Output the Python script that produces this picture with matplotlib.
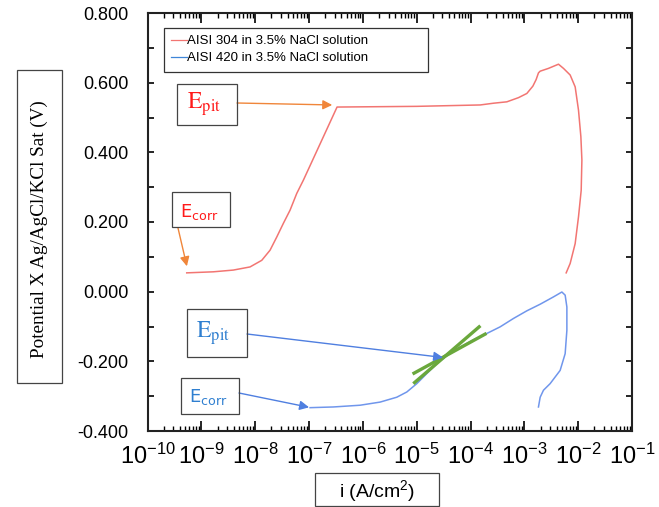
import matplotlib
matplotlib.use("Agg")
import matplotlib.pyplot as plt
from matplotlib.patches import Rectangle
from matplotlib.ticker import LogLocator, MultipleLocator, FormatStrFormatter, LogFormatterMathtext, NullFormatter
import numpy as np

plt.rcParams['font.family'] = ['Liberation Sans', 'DejaVu Sans']
plt.rcParams['mathtext.fontset'] = 'custom'
plt.rcParams['mathtext.rm'] = 'Liberation Sans'
plt.rcParams['mathtext.it'] = 'Liberation Sans:italic'
plt.rcParams['axes.unicode_minus'] = False

# ---------------- data ----------------
series_labels = ["AISI 304 in 3.5% NaCl solution", "AISI 420 in 3.5% NaCl solution"]

log_i_304 = [-9.273, -8.779, -8.407, -8.097, -7.879, -7.725, -7.600, -7.478, -7.353, -7.229,
             -7.106, -6.48, -5.0, -3.82, -3.574, -3.325, -3.109, -2.954, -2.842, -2.781,
             -2.738, -2.706, -2.552, -2.366, -2.273, -2.149, -2.056, -1.994, -1.950, -1.931,
             -1.944, -1.994, -2.056, -2.149, -2.223]
E_304 = [0.054, 0.057, 0.062, 0.071, 0.090, 0.119, 0.157, 0.196, 0.234, 0.282,
         0.320, 0.530, 0.532, 0.536, 0.541, 0.545, 0.557, 0.569, 0.590, 0.609,
         0.628, 0.633, 0.641, 0.653, 0.641, 0.622, 0.588, 0.521, 0.445, 0.378,
         0.291, 0.215, 0.138, 0.081, 0.054]

log_i_420 = [-6.981, -6.548, -6.052, -5.680, -5.370, -5.184, -4.998, -4.812, -4.626, -4.441,
             -4.193, -3.946, -3.697, -3.450, -3.203, -2.954, -2.706, -2.459, -2.303, -2.242,
             -2.210, -2.210, -2.242, -2.335, -2.521, -2.645, -2.706, -2.738]
E_420 = [-0.333, -0.331, -0.326, -0.317, -0.303, -0.288, -0.264, -0.235, -0.207, -0.183,
         -0.159, -0.138, -0.120, -0.101, -0.077, -0.055, -0.036, -0.015, -0.001, -0.010,
         -0.044, -0.111, -0.178, -0.226, -0.264, -0.283, -0.303, -0.331]

tafel1_log_i = [-5.05, -3.73]
tafel1_E = [-0.234, -0.122]
tafel2_log_i = [-5.04, -3.84]
tafel2_E = [-0.261, -0.101]

# annotation targets (log i, E)
epit_304 = (-6.57, 0.536)
ecorr_304 = (-9.27, 0.073)
epit_420 = (-4.51, -0.189)
ecorr_420 = (-7.0, -0.332)

y_ticks = [-0.4, -0.2, 0.0, 0.2, 0.4, 0.6, 0.8]

W, H = 659, 507
fig = plt.figure(figsize=(W / 100, H / 100), dpi=100)

def fx(x):
    return x / W

def fy(y):
    return 1 - y / H

ax = fig.add_axes([fx(147.6), fy(431), fx(632) - fx(147.6), fy(13) - fy(431)])

red = '#f27572'
blue = '#7096ec'
ax.plot(10 ** np.array(log_i_304), E_304, color=red, lw=1.1, label=series_labels[0])
ax.plot(10 ** np.array(log_i_420), E_420, color=blue, lw=1.1, label=series_labels[1])
ax.plot(10 ** np.array(tafel1_log_i), tafel1_E, color='#6aa83c', lw=2.4)
ax.plot(10 ** np.array(tafel2_log_i), tafel2_E, color='#6aa83c', lw=2.4)

ax.set_xscale('log')
ax.set_xlim(1e-10, 1e-1)
ax.set_ylim(-0.4, 0.8)
ax.xaxis.set_major_locator(LogLocator(base=10, numticks=20))
ax.xaxis.set_minor_locator(LogLocator(base=10, subs=np.arange(2, 10), numticks=200))
ax.xaxis.set_major_formatter(LogFormatterMathtext())
ax.xaxis.set_minor_formatter(NullFormatter())
ax.set_yticks(y_ticks)
ax.yaxis.set_minor_locator(MultipleLocator(0.1))
ax.yaxis.set_major_formatter(FormatStrFormatter('%.3f'))

ax.tick_params(axis='x', which='major', direction='in', length=7, width=1.2, top=True,
               labelsize=17, pad=9)
ax.tick_params(axis='x', which='minor', direction='in', length=3.5, width=1.0, top=True)
ax.tick_params(axis='y', which='both', direction='in', length=4, width=1.2, right=True,
               labelsize=13, pad=14)
for s in ax.spines.values():
    s.set_linewidth(1.5)
    s.set_color('#222222')

# legend
x0, y0, x1, y1 = 164, 28, 428, 74
leg = ax.legend(loc='upper left', bbox_to_anchor=(fx(x0), fy(y1), fx(x1) - fx(x0), fy(y0) - fy(y1)),
                bbox_transform=fig.transFigure, mode='expand', borderaxespad=0,
                fancybox=False, edgecolor='#333333', framealpha=1, fontsize=9.5,
                handlelength=1.2, handletextpad=0.0, labelspacing=0.35, borderpad=0.55)
leg.get_frame().set_linewidth(0.9)
for lh, c in zip(leg.get_lines(), [red, '#3f86d8']):
    lh.set_color(c)
    lh.set_linewidth(0.9)

def box(xa, ya, xb, yb):
    fig.add_artist(Rectangle((fx(xa), fy(yb)), fx(xb) - fx(xa), fy(ya) - fy(yb),
                             transform=fig.transFigure, fill=False, edgecolor='#444444', lw=0.9))

# axis label boxes
box(17, 70, 62, 383)
fig.text(fx(39.5), fy(229), 'Potential X Ag/AgCl/KCl Sat (V)', rotation=90,
         ha='center', va='center', fontsize=13.8, family='Liberation Serif')
box(315, 473, 439, 506)
fig.text(fx(377), fy(491), 'i (A/cm$^{2}$)', ha='center', va='center', fontsize=14)

# annotation boxes
box(177, 84, 237, 125)
fig.text(fx(204), fy(104), r'$\mathrm{E}_{\mathrm{pit}}$', color='#ff1a1a', ha='center', va='center',
         fontsize=17, math_fontfamily='stix')
box(172, 192, 230, 227)
fig.text(fx(199), fy(212), r'$\mathrm{E}_{\mathrm{corr}}$', color='#ff1a1a', ha='center', va='center',
         fontsize=13, math_fontfamily='dejavusans')
box(187, 309, 247, 357)
fig.text(fx(213), fy(333), r'$\mathrm{E}_{\mathrm{pit}}$', color='#2f7fd0', ha='center', va='center',
         fontsize=17, math_fontfamily='stix')
box(181, 378, 239, 414)
fig.text(fx(208), fy(397), r'$\mathrm{E}_{\mathrm{corr}}$', color='#2f7fd0', ha='center', va='center',
         fontsize=13, math_fontfamily='dejavusans')

def arrow(target, start_px, color):
    ax.annotate('', xy=(10 ** target[0], target[1]), xycoords='data',
                xytext=(fx(start_px[0]), fy(start_px[1])), textcoords='figure fraction',
                arrowprops=dict(arrowstyle='-|>', color=color, lw=1.0, mutation_scale=14,
                                shrinkA=0, shrinkB=0), annotation_clip=False)

orange = '#f0863a'
arrow(epit_304, (237, 103), orange)
arrow(ecorr_304, (178, 228), orange)
arrow(epit_420, (247, 334), '#4f7fe0')
arrow(ecorr_420, (239, 393), '#4f7fe0')

fig.savefig('out.png', dpi=100)
